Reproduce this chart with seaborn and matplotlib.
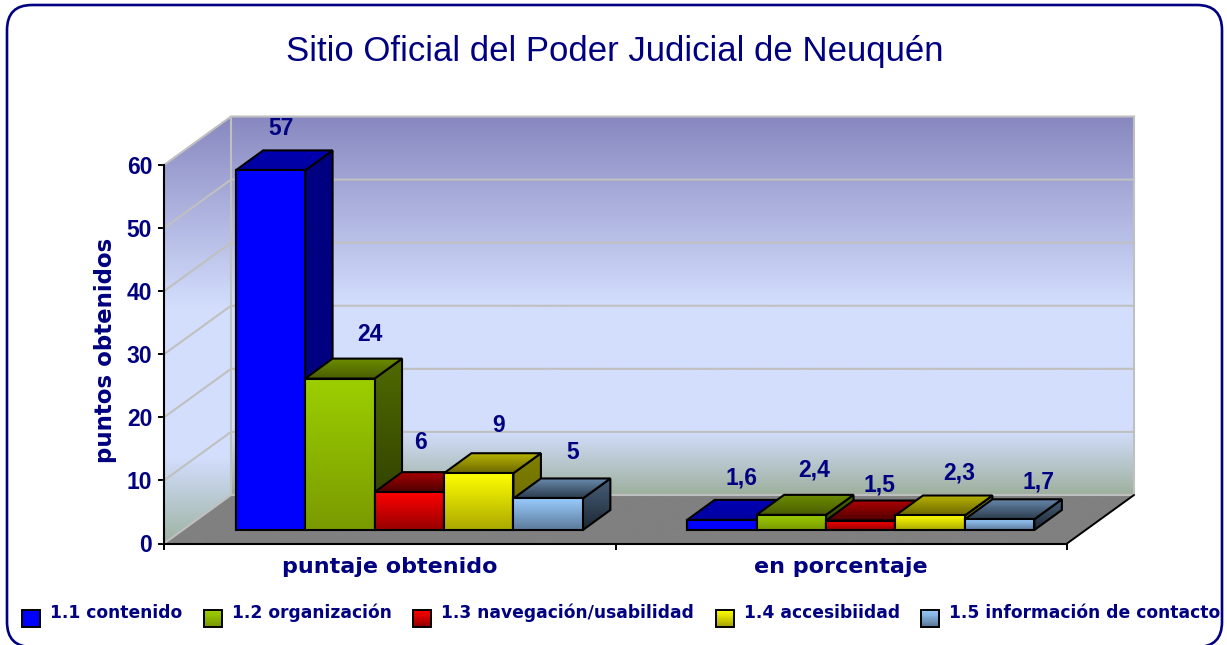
import numpy as np
import pandas as pd
import matplotlib
matplotlib.use("Agg")
import matplotlib.pyplot as plt
import seaborn as sns
from matplotlib.colors import LinearSegmentedColormap
from matplotlib.legend_handler import HandlerBase
from matplotlib.patches import FancyBboxPatch, Patch, Polygon, Rectangle

# values
grupos = ["puntaje obtenido", "en porcentaje"]
criterios = ["1.1 contenido", "1.2 organización", "1.3 navegación/usabilidad",
             "1.4 accesibiidad", "1.5 información de contacto"]
puntaje = [57, 24, 6, 9, 5]
porcentaje = [1.6, 2.4, 1.5, 2.3, 1.7]

# front, top and side colours of each series as (upper, lower)
front = [("#0000ff", "#0000ff"), ("#9ccf00", "#7a9a00"), ("#ff0000", "#960000"),
         ("#ffff00", "#aaa800"), ("#99ccff", "#5c7a99")]
top = [("#0000b4", "#0000a0"), ("#6c8c00", "#485c00"), ("#aa0000", "#4c0000"),
       ("#b8b400", "#6c6800"), ("#6a8cb0", "#2c3c4c")]
side = [("#000080", "#000080"), ("#506a00", "#2c3a00"), ("#700000", "#300000"),
        ("#808000", "#666600"), ("#48607a", "#1c2834")]

navy = "#000080"
W, H = 1227, 645
# pixel layout of the front plane of the chart
PX_LEFT, PX_RIGHT, PX_TOP, PX_BOTTOM = 164, 1067, 165, 543.5
PX_X = (PX_RIGHT - PX_LEFT) / 2
PX_Y = (PX_BOTTOM - PX_TOP) / 60
WALL_DX, WALL_DY = 67 / PX_X, 48.5 / PX_Y
BAR_DX, BAR_DY = 27.5 / PX_X, 20 / PX_Y
# nudges of the value labels, in px from the top of each bar
label_dx = [11, 30, 11, 20, 25, 20, 23, 19, 29, 39]
label_dy = [42, 44, 50, 48, 46, 42, 45, 36, 42, 37]

sns.set_theme(style="white")
plt.rcParams["font.family"] = ["Liberation Sans", "DejaVu Sans"]

df = pd.DataFrame({
    "grupo": [g for g in grupos for _ in criterios],
    "criterio": criterios * 2,
    "valor": puntaje + porcentaje,
})


def shade(ax, pts, upper, lower, z, stops=None, outline=None, lw=1.5):
    """Gradient filled polygon, with an optional outline"""
    pts = np.array(pts)
    if stops is None:
        cmap = LinearSegmentedColormap.from_list("g", [upper, lower])
    else:
        cmap = LinearSegmentedColormap.from_list("g", stops)
    poly = Polygon(pts, closed=True, transform=ax.transData)
    grad = np.linspace(0, 1, 256).reshape(-1, 1)
    im = ax.imshow(grad, cmap=cmap, aspect="auto", interpolation="bilinear",
                   extent=(pts[:, 0].min(), pts[:, 0].max(), pts[:, 1].min(), pts[:, 1].max()),
                   zorder=z)
    im.set_clip_path(poly)
    im.set_clip_box(fig.bbox)
    if outline:
        ax.add_patch(Polygon(pts, closed=True, fill=False, edgecolor=outline, linewidth=lw,
                             joinstyle="miter", zorder=z + 0.01, clip_on=False))


class GradHandler(HandlerBase):
    # swatch with the same vertical gradient as the bars
    def create_artists(self, legend, orig_handle, xdescent, ydescent, width, height, fontsize, trans):
        cmap = LinearSegmentedColormap.from_list("g", [orig_handle.get_facecolor(), orig_handle.get_edgecolor()])
        out = []
        n = 14
        for i in range(n):
            out.append(Rectangle((-xdescent, -ydescent + height * (n - 1 - i) / n), width, height / n,
                                 facecolor=cmap(i / (n - 1)), edgecolor="none", transform=trans))
        out.append(Rectangle((-xdescent, -ydescent), width, height, fill=False,
                             edgecolor="black", linewidth=1.4, transform=trans))
        return out


fig = plt.figure(figsize=(W / 100, H / 100), dpi=100, facecolor="white")

# rounded frame
back = fig.add_axes([0, 0, 1, 1], zorder=0)
back.set_xlim(0, W)
back.set_ylim(H, 0)
back.axis("off")
back.add_patch(FancyBboxPatch((32, 30), 1165, 592, boxstyle="round,pad=25,rounding_size=25",
                              facecolor="white", edgecolor=navy, linewidth=1.9))

# axes of the front plane, carries the walls and the scales
ax = fig.add_axes([PX_LEFT / W, 1 - PX_BOTTOM / H, (PX_RIGHT - PX_LEFT) / W, (PX_BOTTOM - PX_TOP) / H], zorder=1)
ax.patch.set_alpha(0)

wall_stops_back = [(0, "#8888c0"), (0.5, "#d3defd"), (0.83, "#d3defd"), (1, "#9eb09e")]
wall_stops_left = [(0, "#8888c0"), (0.45, "#d3defd"), (0.8, "#d3defd"), (1, "#9eb4a4")]
x0, x1 = -0.5, 1.5
shade(ax, [(x0 + WALL_DX, WALL_DY), (x1 + WALL_DX, WALL_DY), (x1 + WALL_DX, 60 + WALL_DY), (x0 + WALL_DX, 60 + WALL_DY)],
      None, None, 0.5, stops=wall_stops_back)
shade(ax, [(x0, 0), (x0 + WALL_DX, WALL_DY), (x0 + WALL_DX, 60 + WALL_DY), (x0, 60)],
      None, None, 0.5, stops=wall_stops_left)
shade(ax, [(x0, 0), (x1, 0), (x1 + WALL_DX, WALL_DY), (x0 + WALL_DX, WALL_DY)], "#808080", "#808080", 0.6)

grid_kw = dict(color="#c0c0c0", linewidth=1.5, zorder=0.7, clip_on=False, solid_capstyle="projecting")
for v in range(10, 70, 10):
    ax.plot([x0, x0 + WALL_DX, x1 + WALL_DX], [v, v + WALL_DY, v + WALL_DY], **grid_kw)
ax.plot([x0 + WALL_DX, x0 + WALL_DX], [WALL_DY, 60 + WALL_DY], **grid_kw)
ax.plot([x1 + WALL_DX, x1 + WALL_DX], [WALL_DY, 60 + WALL_DY], **grid_kw)
ax.plot([x0, x0 + WALL_DX, x1 + WALL_DX], [0, WALL_DY, WALL_DY], **grid_kw)
ax.plot([x1, x1 + WALL_DX], [0, WALL_DY], color="black", linewidth=1.4, zorder=0.8, clip_on=False)

ax.set_xlim(x0, x1)
ax.set_ylim(0, 60)
sns.despine(ax=ax)
for s in ["left", "bottom"]:
    ax.spines[s].set_color("black")
    ax.spines[s].set_linewidth(1.5)
    ax.spines[s].set_zorder(1)
ax.set_yticks(range(0, 70, 10))
ax.set_xticks([0, 1], grupos)
ax.set_xticks([-0.5, 0.5, 1.5], minor=True)
ax.tick_params(axis="y", length=4.5, width=1.4, color="black", labelcolor=navy, labelsize=16.5, pad=4, left=True)
ax.tick_params(axis="x", which="major", length=0, labelcolor=navy, labelsize=16, pad=10)
ax.tick_params(axis="x", which="minor", length=4.5, width=1.4, color="black", bottom=True)
for t in ax.get_yticklabels():
    t.set_fontweight("bold")
for t in ax.get_xticklabels():
    t.set_fontweight("bold")
    t.set_family("DejaVu Sans")
ax.set_ylabel("puntos obtenidos", color=navy, fontsize=16.5, fontweight="bold", family="DejaVu Sans")
ax.yaxis.set_label_coords(-47 / (PX_RIGHT - PX_LEFT), 0.511)

# bars sit a bit inside the floor, so they get their own axes moved along the depth
bar_ax = fig.add_axes([(PX_LEFT + 19.5) / W, 1 - (PX_BOTTOM - 13.5) / H, (PX_RIGHT - PX_LEFT) / W, (PX_BOTTOM - PX_TOP) / H], zorder=2)
sns.barplot(data=df, x="grupo", y="valor", hue="criterio", order=grupos, hue_order=criterios,
            palette=[c[0] for c in front], saturation=1, width=0.769, gap=0, legend=False,
            edgecolor="black", linewidth=1.5, ax=bar_ax)
bar_ax.patch.set_alpha(0)
bar_ax.axis("off")

k = 0
for group in range(len(grupos)):
    for s, cont in enumerate(bar_ax.containers):
        bar = cont[group]
        xa, xb = bar.get_x(), bar.get_x() + bar.get_width()
        h = bar.get_height()
        z = 3 + s
        bar.set_zorder(z)
        shade(bar_ax, [(xb, 0), (xb + BAR_DX, BAR_DY), (xb + BAR_DX, h + BAR_DY), (xb, h)],
              side[s][0], side[s][1], z + 0.1, outline="black")
        shade(bar_ax, [(xa, h), (xb, h), (xb + BAR_DX, h + BAR_DY), (xa + BAR_DX, h + BAR_DY)],
              top[s][0], top[s][1], z + 0.2, outline="black")
        shade(bar_ax, [(xa, 0), (xb, 0), (xb, h), (xa, h)],
              front[s][0], front[s][1], z + 0.3, outline="black")
        txt = str(h).replace(".0", "").replace(".", ",")
        bar_ax.annotate(txt, xy=((xa + xb) / 2, h), xytext=(label_dx[k] * 0.72, label_dy[k] * 0.72),
                        textcoords="offset points", ha="center", va="center", color=navy,
                        fontsize=16.5, fontweight="bold", zorder=20)
        k += 1
bar_ax.set_xlim(x0, x1)
bar_ax.set_ylim(0, 60)

fig.text(615 / W, 1 - 52 / H, "Sitio Oficial del Poder Judicial de Neuquén", ha="center", va="center",
         color=navy, fontsize=25, zorder=5)

handles = [Patch(facecolor=c[0], edgecolor=c[1]) for c in front]
leg = fig.legend(handles, criterios, handler_map={Patch: GradHandler()}, ncol=5, loc="lower left",
                 bbox_to_anchor=(22 / W, 1 - 628 / H), frameon=False, borderpad=0, borderaxespad=0,
                 handlelength=1.05, handleheight=1.12, handletextpad=0.6, columnspacing=1.25,
                 prop={"family": "DejaVu Sans", "weight": "bold", "size": 12.3})
for t in leg.get_texts():
    t.set_color(navy)
    t.set_y(6)

fig.savefig("out.png", dpi=100)
